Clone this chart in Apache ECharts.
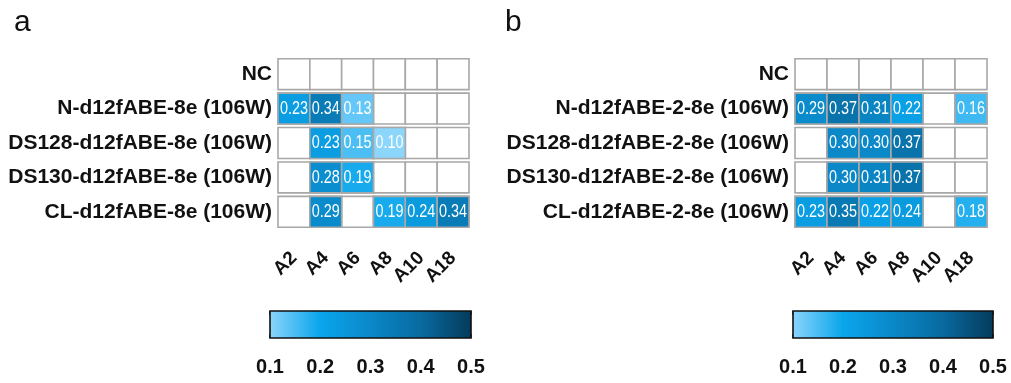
<!DOCTYPE html>
<html>
<head>
<meta charset="utf-8">
<script src="https://cdn.jsdelivr.net/npm/echarts@6/dist/echarts.min.js"></script>
<style>
  html, body { margin: 0; padding: 0; background: #fff; }
  #chart { width: 1011px; height: 383px; }
</style>
</head>
<body>
<div id="chart"></div>
<script>
// Editing positions A2..A18 shared by both panels
const positions = ['A2', 'A4', 'A6', 'A8', 'A10', 'A18'];

// Panel a: editor constructs and their editing frequencies (null = not detected)
const constructsA = [
  'NC',
  'N-d12fABE-8e (106W)',
  'DS128-d12fABE-8e (106W)',
  'DS130-d12fABE-8e (106W)',
  'CL-d12fABE-8e (106W)'
];
const valuesA = [
  [null, null, null, null, null, null],
  [0.23, 0.34, 0.13, null, null, null],
  [null, 0.23, 0.15, 0.10, null, null],
  [null, 0.28, 0.19, null, null, null],
  [null, 0.29, null, 0.19, 0.24, 0.34]
];

// Panel b
const constructsB = [
  'NC',
  'N-d12fABE-2-8e (106W)',
  'DS128-d12fABE-2-8e (106W)',
  'DS130-d12fABE-2-8e (106W)',
  'CL-d12fABE-2-8e (106W)'
];
const valuesB = [
  [null, null, null, null, null, null],
  [0.29, 0.37, 0.31, 0.22, null, 0.16],
  [null, 0.30, 0.30, 0.37, null, null],
  [null, 0.30, 0.31, 0.37, null, null],
  [0.23, 0.35, 0.22, 0.24, null, 0.18]
];

// Colour scale range and ticks
const scaleMin = 0.1;
const scaleMax = 0.5;
const scaleTicks = [0.1, 0.2, 0.3, 0.4, 0.5];
const rampColors = ['#8cd5fb', '#0aa6ec', '#0a88c8', '#086aa0', '#053a5a'];

const FONT = '"Liberation Sans", Arial, sans-serif';

function cellData(values) {
  const out = [];
  values.forEach((row, r) => row.forEach((v, c) => { if (v !== null) out.push([c, r, v]); }));
  return out;
}
function frameData(rows, cols) {
  const out = [];
  rows.forEach((_, r) => cols.forEach((_, c) => out.push([c, r])));
  return out;
}

const ROW_GAP = 3.5;
function cellRect(api) {
  const c = api.coord([api.value(0), api.value(1)]);
  const s = api.size([1, 1]);
  return { x: c[0] - s[0] / 2, y: c[1] - s[1] / 2 + ROW_GAP / 2, width: s[0], height: s[1] - ROW_GAP };
}
function renderFrame(params, api) {
  return { type: 'rect', shape: cellRect(api), style: { fill: '#fff', stroke: '#a8a8a8', lineWidth: 1.6 } };
}
function renderCell(params, api) {
  const r = cellRect(api);
  const v = api.value(2);
  return {
    type: 'group',
    children: [
      { type: 'rect', shape: r, style: { fill: api.visual('color'), stroke: '#a8a8a8', lineWidth: 1.6 } },
      { type: 'text', x: r.x + r.width / 2, y: r.y + r.height / 2 + 0.5, scaleX: 0.8,
        style: {
          text: v.toFixed(2), x: 0, y: 0,
          align: 'center', verticalAlign: 'middle', fill: '#fff',
          fontSize: 18, fontFamily: FONT } }
    ]
  };
}
function renderBar(params, api) {
  const p0 = api.coord([scaleMin, 1]);
  const p1 = api.coord([scaleMax, 0]);
  return {
    type: 'rect',
    shape: { x: p0[0], y: p0[1], width: p1[0] - p0[0], height: p1[1] - p0[1] },
    style: {
      fill: new echarts.graphic.LinearGradient(0, 0, 1, 0,
        rampColors.map((col, i) => ({ offset: i / (rampColors.length - 1), color: col }))),
      stroke: '#111', lineWidth: 1.6
    },
    z2: 0
  };
}

const panels = [
  { rows: constructsA, values: valuesA, grid: { left: 278, width: 191, top: 57, height: 172 },
    bar: { left: 270, width: 201, top: 311, height: 27 } },
  { rows: constructsB, values: valuesB, grid: { left: 795, width: 192, top: 57, height: 172 },
    bar: { left: 793, width: 200, top: 311, height: 27 } }
];

const option = {
  backgroundColor: '#fff',
  animation: false,
  title: [
    { text: 'a', left: 9, top: 3, textStyle: { fontSize: 30, fontWeight: 'normal', color: '#111', fontFamily: FONT } },
    { text: 'b', left: 500, top: 3, textStyle: { fontSize: 30, fontWeight: 'normal', color: '#111', fontFamily: FONT } }
  ],
  grid: [], xAxis: [], yAxis: [], series: [],
  visualMap: [
    { show: false, type: 'continuous', min: scaleMin, max: scaleMax, dimension: 2, seriesIndex: [1, 3],
      inRange: { color: rampColors } }
  ]
};

panels.forEach((p, i) => {
  const g = option.grid.length;
  option.grid.push(Object.assign({ containLabel: false }, p.grid));
  option.xAxis.push({
    type: 'category', gridIndex: g, data: positions, position: 'bottom',
    axisLine: { show: false }, axisTick: { show: false }, splitLine: { show: false },
    axisLabel: { rotate: 45, margin: 26, interval: 0, color: '#111', fontSize: 19, fontWeight: 'bold', fontFamily: FONT }
  });
  option.yAxis.push({
    type: 'category', gridIndex: g, data: p.rows, inverse: true,
    axisLine: { show: false }, axisTick: { show: false }, splitLine: { show: false },
    axisLabel: { margin: 6, color: '#111', fontSize: 21, fontWeight: 'bold', fontFamily: FONT }
  });
  option.series.push({
    type: 'custom', xAxisIndex: option.xAxis.length - 1, yAxisIndex: option.yAxis.length - 1,
    data: frameData(p.rows, positions), renderItem: renderFrame, silent: true
  });
  option.series.push({
    type: 'custom', xAxisIndex: option.xAxis.length - 1, yAxisIndex: option.yAxis.length - 1,
    data: cellData(p.values), renderItem: renderCell, encode: { x: 0, y: 1 }, silent: true
  });
});

// Colour bars with their own value axes
panels.forEach((p, i) => {
  const g = option.grid.length;
  option.grid.push(Object.assign({ containLabel: false }, p.bar));
  const tickStyle = { show: true, inside: true, length: 4, lineStyle: { color: '#111', width: 1.5 } };
  option.xAxis.push({
    type: 'value', gridIndex: g, min: scaleMin, max: scaleMax, interval: 0.1, position: 'bottom',
    axisLine: { show: false }, axisTick: tickStyle, splitLine: { show: false },
    axisLabel: { margin: 19, color: '#111', fontSize: 20, fontWeight: 'bold', fontFamily: FONT,
      showMinLabel: true, showMaxLabel: true, formatter: v => v.toFixed(1) }
  });
  option.xAxis.push({
    type: 'value', gridIndex: g, min: scaleMin, max: scaleMax, interval: 0.1, position: 'top',
    axisLine: { show: false }, axisTick: tickStyle, splitLine: { show: false }, axisLabel: { show: false }
  });
  option.yAxis.push({ type: 'value', gridIndex: g, min: 0, max: 1, show: false });
  option.series.push({
    type: 'custom', xAxisIndex: option.xAxis.length - 2, yAxisIndex: option.yAxis.length - 1,
    data: [[scaleMin, 0]], renderItem: renderBar, silent: true, z: 1
  });
});

const chart = echarts.init(document.getElementById('chart'), null, { renderer: 'canvas' });
chart.setOption(option);
</script>
</body>
</html>
